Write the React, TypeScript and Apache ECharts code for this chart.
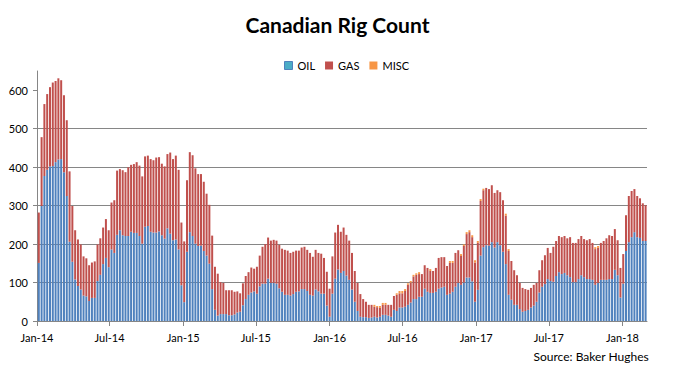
import { useEffect, useRef } from "react";
import * as echarts from "echarts";

// Weekly Baker Hughes Canadian rig count, first report Fri 3 Jan 2014
const firstWeek = [2014, 0, 3];

const oil = [
  151, 299, 377, 393, 402, 403, 413, 420, 421, 387,
  325, 206, 154, 108, 91, 82, 66, 64, 52, 60,
  60, 104, 120, 148, 164, 140, 186, 177, 224, 236,
  223, 221, 221, 232, 229, 229, 221, 201, 245, 247,
  232, 230, 230, 233, 223, 214, 241, 227, 210, 212,
  186, 93, 49, 180, 231, 221, 201, 195, 196, 182,
  170, 149, 83, 29, 14, 18, 18, 18, 15, 15,
  17, 22, 24, 41, 57, 68, 74, 77, 71, 90,
  97, 97, 110, 99, 99, 97, 85, 76, 68, 68,
  66, 70, 76, 77, 83, 83, 78, 68, 66, 82,
  77, 71, 71, 40, 11, 71, 110, 134, 125, 130,
  118, 107, 82, 50, 26, 11, 10, 10, 8, 9,
  11, 9, 11, 16, 16, 14, 11, 29, 26, 35,
  35, 37, 42, 48, 57, 57, 63, 63, 84, 76,
  73, 73, 76, 84, 87, 89, 68, 71, 76, 89,
  99, 94, 100, 113, 113, 103, 50, 81, 170, 192,
  197, 196, 205, 191, 205, 197, 180, 148, 68, 55,
  42, 42, 31, 24, 26, 29, 35, 40, 50, 74,
  89, 96, 109, 104, 102, 117, 127, 122, 125, 119,
  114, 101, 101, 109, 119, 114, 109, 109, 107, 94,
  99, 107, 107, 107, 109, 109, 133, 119, 61, 97,
  182, 205, 218, 231, 218, 216, 208, 208,
];

const gas = [
  131, 179, 187, 197, 206, 217, 211, 211, 205, 200,
  197, 183, 145, 128, 121, 117, 102, 99, 93, 92,
  95, 95, 95, 95, 101, 96, 122, 137, 167, 159,
  169, 166, 179, 174, 179, 184, 183, 175, 183, 183,
  189, 188, 195, 193, 186, 188, 193, 211, 211, 218,
  207, 163, 158, 186, 208, 210, 196, 187, 186, 180,
  161, 153, 139, 112, 109, 83, 81, 62, 65, 65,
  59, 55, 48, 57, 60, 59, 65, 59, 70, 80,
  96, 103, 107, 110, 112, 112, 113, 112, 117, 115,
  111, 110, 107, 106, 108, 110, 107, 109, 101, 103,
  100, 104, 93, 88, 73, 97, 120, 116, 107, 113,
  106, 102, 95, 80, 73, 59, 47, 40, 34, 33,
  26, 27, 23, 26, 26, 28, 31, 36, 42, 37,
  37, 41, 52, 52, 59, 63, 59, 59, 61, 62,
  57, 57, 62, 80, 79, 77, 75, 80, 75, 88,
  85, 75, 95, 113, 118, 115, 102, 122, 142, 148,
  149, 147, 148, 142, 135, 138, 134, 126, 114, 101,
  90, 77, 68, 62, 57, 52, 51, 54, 49, 58,
  69, 75, 81, 73, 91, 91, 94, 96, 96, 96,
  104, 102, 102, 104, 102, 99, 101, 104, 96, 93,
  91, 96, 101, 108, 114, 112, 106, 91, 77, 77,
  93, 120, 120, 112, 107, 103, 98, 93,
];

const misc = [
  0, 0, 0, 0, 0, 0, 0, 0, 0, 0,
  0, 0, 0, 0, 0, 0, 0, 0, 0, 0,
  0, 0, 0, 0, 0, 0, 0, 0, 0, 0,
  0, 0, 0, 0, 0, 0, 0, 0, 0, 0,
  0, 0, 0, 0, 0, 0, 0, 0, 0, 0,
  0, 0, 0, 0, 0, 0, 0, 0, 0, 0,
  0, 0, 0, 0, 0, 0, 0, 0, 0, 0,
  0, 0, 0, 0, 0, 0, 0, 0, 0, 0,
  0, 0, 0, 0, 0, 0, 0, 0, 0, 0,
  0, 0, 0, 0, 0, 0, 0, 0, 0, 0,
  0, 0, 0, 0, 0, 0, 0, 0, 0, 0,
  0, 0, 0, 0, 0, 0, 0, 0, 0, 0,
  5, 3, 5, 5, 5, 0, 0, 0, 4, 6,
  6, 5, 4, 4, 4, 4, 5, 0, 0, 0,
  5, 0, 0, 0, 0, 0, 0, 5, 5, 0,
  0, 5, 4, 5, 5, 5, 6, 5, 5, 4,
  0, 0, 0, 0, 0, 0, 0, 5, 5, 0,
  0, 0, 0, 0, 0, 0, 0, 0, 0, 0,
  0, 0, 0, 0, 0, 0, 0, 0, 0, 0,
  0, 0, 0, 0, 0, 0, 0, 0, 0, 5,
  5, 0, 0, 0, 0, 0, 0, 0, 0, 0,
  0, 0, 0, 0, 0, 0, 0, 0,
];

const tickDates = [
  [2014, 0, 1], [2014, 6, 1], [2015, 0, 1], [2015, 6, 1], [2016, 0, 1],
  [2016, 6, 1], [2017, 0, 1], [2017, 6, 1], [2018, 0, 1],
];
const tickLabels = [
  "Jan-14", "Jul-14", "Jan-15", "Jul-15", "Jan-16",
  "Jul-16", "Jan-17", "Jul-17", "Jan-18",
];
const yTicks = [0, 100, 200, 300, 400, 500, 600];

const FONT = "Lato, 'Liberation Sans', sans-serif";

export default function App() {
  const ref = useRef<HTMLDivElement>(null);

  useEffect(() => {
    if (!ref.current) return;
    const chart = echarts.init(ref.current, null, { renderer: "svg" });
    const weeks = oil.map((_, i) =>
      new Date(firstWeek[0], firstWeek[1], firstWeek[2] + 7 * i).getTime()
    );
    const tickTimes = tickDates.map(([y, m, d]) => new Date(y, m, d).getTime());
    const pair = (arr: number[]) => arr.map((v, i) => [weeks[i], v]);
    const gridColor = "#868686";
    const xMin = new Date(2014, 0, 1).getTime();
    const xMax = new Date(2018, 2, 3).getTime();

    chart.setOption({
      animation: false,
      title: {
        text: "Canadian Rig Count",
        left: "center",
        top: 9,
        textStyle: { fontFamily: FONT, fontWeight: "bold", fontSize: 21, color: "#000" },
      },
      legend: {
        top: 55,
        left: 279,
        icon: "rect",
        itemWidth: 8,
        itemHeight: 8,
        itemGap: 10,
        textStyle: { fontFamily: FONT, fontSize: 11, color: "#000" },
        data: [
          { name: "OIL", itemStyle: { color: "#4BACC6", borderColor: "#4F81BD", borderWidth: 1 } },
          { name: "GAS" },
          { name: "MISC" },
        ],
      },
      grid: { left: 37, right: 28, top: 71, bottom: 53 },
      xAxis: [
        {
          type: "time",
          min: xMin,
          max: xMax,
          axisLine: { show: false },
          axisTick: { show: false },
          axisLabel: { show: false },
          splitLine: { show: false },
        },
        {
          type: "value",
          position: "bottom",
          min: xMin,
          max: xMax,
          axisLine: { show: true, lineStyle: { color: gridColor, width: 1 } },
          axisTick: { show: true, customValues: tickTimes, length: 5, lineStyle: { color: gridColor } },
          axisLabel: {
            customValues: tickTimes,
            formatter: (v: number) => {
              const i = tickTimes.indexOf(v);
              return i >= 0 ? tickLabels[i] : "";
            },
            fontFamily: FONT,
            fontSize: 11,
            color: "#000",
            margin: 11,
          },
          splitLine: { show: false },
        },
      ],
      yAxis: {
        type: "value",
        min: 0,
        max: 650,
        interval: 100,
        axisLine: { show: true, lineStyle: { color: gridColor, width: 1 } },
        axisTick: { show: true, customValues: yTicks, length: 4, lineStyle: { color: gridColor } },
        axisLabel: {
          customValues: yTicks,
          fontFamily: FONT,
          fontSize: 11,
          color: "#000",
          margin: 9,
        },
        splitLine: { show: true, showMaxLine: false, lineStyle: { color: gridColor, width: 1 } },
      },
      graphic: [
        {
          type: "text",
          right: 26,
          top: 350,
          style: { text: "Source: Baker Hughes", font: `12px ${FONT}`, fill: "#000" },
        },
      ],
      series: [
        { name: "OIL", type: "bar", xAxisIndex: 0, stack: "rigs", barWidth: 2, itemStyle: { color: "#4F81BD" }, data: pair(oil) },
        { name: "GAS", type: "bar", xAxisIndex: 0, stack: "rigs", barWidth: 2, itemStyle: { color: "#C0504D" }, data: pair(gas) },
        { name: "MISC", type: "bar", xAxisIndex: 0, stack: "rigs", barWidth: 2, itemStyle: { color: "#F79646" }, data: pair(misc) },
      ],
    });

    return () => chart.dispose();
  }, []);

  return (
    <div
      ref={ref}
      style={{ position: "absolute", left: 0, top: 0, width: 675, height: 374 }}
    />
  );
}
